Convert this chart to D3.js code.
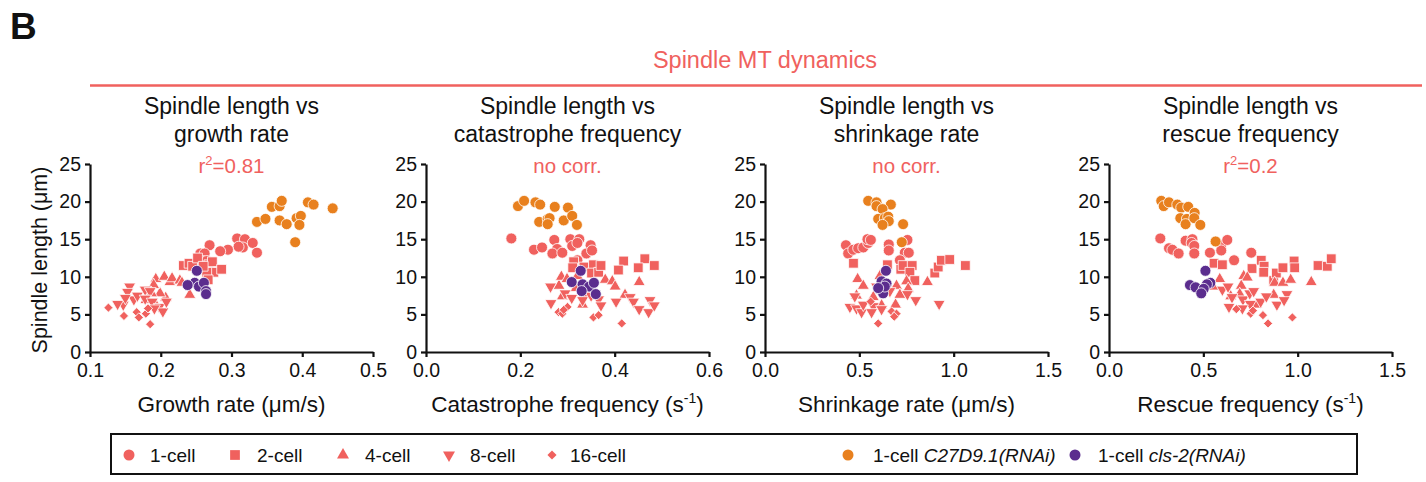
<!DOCTYPE html>
<html>
<head>
<meta charset="utf-8">
<script src="https://cdn.jsdelivr.net/npm/d3@7"></script>
<style>
  html, body { margin: 0; padding: 0; background: #fff; }
  svg { display: block; font-family: "Liberation Sans", Arial, Helvetica, sans-serif; }
</style>
</head>
<body>
<svg id="chart" width="1426" height="482"></svg>
<script>
// groups shown in the legend
const groupNames = ['1-cell', '2-cell', '4-cell', '8-cell', '16-cell', '1-cell C27D9.1(RNAi)', '1-cell cls-2(RNAi)'];

// [x, spindle length µm]
const growth_1cell = [[0.308,15.1],[0.319,15.0],[0.316,13.9],[0.310,14.0],[0.330,14.5],[0.336,13.2],[0.295,13.6],[0.284,13.4],[0.269,14.2],[0.256,13.1],[0.262,13.1],[0.259,12.1],[0.251,11.6],[0.265,12.1]];
const growth_2cell = [[0.232,11.5],[0.240,11.8],[0.245,11.4],[0.252,12.5],[0.268,11.6],[0.273,12.0],[0.275,10.6],[0.286,11.0],[0.265,10.6],[0.267,9.6],[0.260,11.4]];
const growth_4cell = [[0.193,9.7],[0.205,10.0],[0.213,9.3],[0.216,9.8],[0.227,9.5],[0.230,9.2],[0.241,7.6],[0.207,7.2],[0.199,7.8],[0.190,8.9],[0.187,7.8],[0.179,6.9],[0.194,6.1]];
const growth_8cell = [[0.156,8.7],[0.153,8.0],[0.162,7.0],[0.147,6.3],[0.139,6.4],[0.167,7.5],[0.178,8.3],[0.185,8.1],[0.178,7.1],[0.188,6.7],[0.198,6.0],[0.203,5.4],[0.208,6.7],[0.191,5.8],[0.150,7.2]];
const growth_16cell = [[0.126,5.9],[0.148,4.8],[0.166,5.3],[0.169,4.6],[0.179,5.1],[0.185,3.7],[0.182,5.8]];
const growth_c27 = [[0.357,19.3],[0.368,19.4],[0.371,20.1],[0.408,19.9],[0.416,19.6],[0.443,19.1],[0.336,17.3],[0.348,17.7],[0.368,17.5],[0.378,17.0],[0.392,17.8],[0.398,18.1],[0.396,16.9],[0.390,14.6]];
const growth_cls2 = [[0.251,10.8],[0.248,9.2],[0.238,8.9],[0.254,8.7],[0.261,9.2],[0.264,8.1],[0.264,7.7]];

const catastrophe_1cell = [[0.181,15.1],[0.229,13.6],[0.246,13.9],[0.272,14.9],[0.278,13.7],[0.268,13.1],[0.289,13.2],[0.306,15.0],[0.310,14.1],[0.325,15.0],[0.321,14.5],[0.349,14.2],[0.340,13.1],[0.352,13.5],[0.321,12.2]];
const catastrophe_2cell = [[0.313,12.0],[0.311,11.2],[0.335,11.3],[0.355,11.6],[0.351,10.5],[0.366,10.6],[0.371,11.5],[0.419,12.1],[0.408,10.9],[0.464,12.4],[0.450,11.2],[0.484,11.5]];
const catastrophe_4cell = [[0.282,8.8],[0.287,10.0],[0.299,9.7],[0.321,10.1],[0.380,9.6],[0.395,9.4],[0.401,8.7],[0.452,9.3],[0.422,7.6],[0.340,7.7],[0.332,6.3],[0.289,7.4],[0.318,8.5]];
const catastrophe_8cell = [[0.264,8.7],[0.295,7.8],[0.309,7.2],[0.332,6.9],[0.350,7.5],[0.366,7.0],[0.371,6.2],[0.403,6.7],[0.433,7.3],[0.440,6.7],[0.452,5.7],[0.472,5.3],[0.475,6.9],[0.484,6.2],[0.265,6.5]];
const catastrophe_16cell = [[0.281,5.3],[0.289,5.1],[0.300,6.0],[0.292,5.6],[0.355,4.6],[0.366,4.9],[0.415,3.8]];
const catastrophe_c27 = [[0.195,19.4],[0.208,20.1],[0.232,19.9],[0.242,19.6],[0.273,19.3],[0.301,19.2],[0.240,17.3],[0.258,17.7],[0.262,17.8],[0.258,17.0],[0.292,17.5],[0.310,18.1],[0.320,16.9]];
const catastrophe_cls2 = [[0.328,10.8],[0.309,9.3],[0.332,9.0],[0.346,8.7],[0.356,9.2],[0.330,8.1],[0.360,7.7]];

const shrinkage_1cell = [[0.429,14.2],[0.441,13.1],[0.468,13.6],[0.494,13.8],[0.521,13.9],[0.547,14.5],[0.543,15.0],[0.561,14.9],[0.656,14.3],[0.656,13.5],[0.755,14.9],[0.741,13.2],[0.762,13.2],[0.715,12.2]];
const shrinkage_2cell = [[0.469,11.8],[0.649,11.6],[0.720,11.0],[0.732,11.5],[0.780,11.5],[0.768,10.6],[0.794,9.5],[0.900,10.5],[0.918,11.3],[0.935,12.2],[0.979,12.3],[1.062,11.5]];
const shrinkage_4cell = [[0.491,9.7],[0.521,8.8],[0.609,10.1],[0.697,8.8],[0.750,9.4],[0.759,8.4],[0.861,9.3],[0.574,7.3],[0.692,6.3],[0.715,7.6],[0.485,7.5],[0.618,6.2]];
const shrinkage_8cell = [[0.450,6.0],[0.485,5.8],[0.512,5.3],[0.521,6.3],[0.574,6.1],[0.618,5.7],[0.591,8.7],[0.662,8.1],[0.755,7.7],[0.799,6.9],[0.923,6.4],[0.565,5.3],[0.476,7.4]];
const shrinkage_16cell = [[0.671,5.4],[0.697,5.1],[0.685,4.7],[0.600,3.8],[0.560,6.7]];
const shrinkage_c27 = [[0.547,20.1],[0.591,19.9],[0.667,19.6],[0.591,19.4],[0.623,19.0],[0.600,17.7],[0.635,17.8],[0.653,18.0],[0.656,17.4],[0.623,16.9],[0.732,17.0],[0.725,14.6]];
const shrinkage_cls2 = [[0.641,10.8],[0.618,9.4],[0.644,9.1],[0.609,8.3],[0.626,7.8],[0.635,8.7],[0.600,8.5]];

const rescue_1cell = [[0.272,15.1],[0.318,13.8],[0.336,13.6],[0.369,13.1],[0.406,14.8],[0.442,15.0],[0.438,14.5],[0.452,14.1],[0.452,13.1],[0.535,13.2],[0.595,14.2],[0.627,14.9],[0.595,13.5],[0.663,12.2],[0.754,13.2]];
const rescue_2cell = [[0.557,11.8],[0.601,11.6],[0.758,11.1],[0.807,12.2],[0.822,11.4],[0.820,10.6],[0.873,9.5],[0.887,10.5],[0.922,11.2],[0.981,12.1],[0.984,11.2],[1.108,11.5],[1.157,11.4],[1.178,12.4]];
const rescue_4cell = [[0.551,8.7],[0.587,9.7],[0.714,10.1],[0.733,9.9],[0.701,8.8],[0.878,9.2],[0.922,9.2],[0.963,9.6],[1.072,9.3],[0.645,7.4],[0.693,7.7],[0.873,7.6],[0.781,6.3]];
const rescue_8cell = [[0.601,8.3],[0.631,8.7],[0.652,7.3],[0.710,7.0],[0.746,7.8],[0.767,8.1],[0.749,6.4],[0.804,6.7],[0.834,7.4],[0.890,6.3],[0.943,7.7],[0.928,6.9],[0.636,6.0],[0.707,5.8]];
const rescue_16cell = [[0.751,5.1],[0.763,5.5],[0.816,4.9],[0.843,3.8],[0.972,4.6],[0.675,5.7]];
const rescue_c27 = [[0.277,20.1],[0.290,19.4],[0.318,19.9],[0.362,19.6],[0.383,19.2],[0.420,19.3],[0.378,17.8],[0.413,17.7],[0.406,17.0],[0.454,18.5],[0.452,17.8],[0.484,16.9],[0.565,14.7]];
const rescue_cls2 = [[0.429,8.9],[0.459,8.6],[0.511,10.8],[0.537,9.2],[0.519,9.0],[0.502,8.4],[0.489,7.8]];

// axis ticks
const yTicks = [0, 5, 10, 15, 20, 25];
const growthTicks = [0.1, 0.2, 0.3, 0.4, 0.5];
const catastropheTicks = [0.0, 0.2, 0.4, 0.6];
const shrinkageTicks = [0.0, 0.5, 1.0, 1.5];
const rescueTicks = [0.0, 0.5, 1.0, 1.5];

const panelTitles = [
  ['Spindle length vs', 'growth rate'],
  ['Spindle length vs', 'catastrophe frequency'],
  ['Spindle length vs', 'shrinkage rate'],
  ['Spindle length vs', 'rescue frequency']
];
const corrLabels = ['r2=0.81', 'no corr.', 'no corr.', 'r2=0.2'];

const RED = '#f0615e';
const ORANGE = '#e8801e';
const PURPLE = '#5b2d8e';
const groupColors = [RED, RED, RED, RED, RED, ORANGE, PURPLE];

const panels = [
  { ticks: growthTicks, fmt: '.1f', label: ['Growth rate (μm/s)', null],
    series: [growth_1cell, growth_2cell, growth_4cell, growth_8cell, growth_16cell, growth_c27, growth_cls2] },
  { ticks: catastropheTicks, fmt: '.1f', label: ['Catastrophe frequency (s', '-1'],
    series: [catastrophe_1cell, catastrophe_2cell, catastrophe_4cell, catastrophe_8cell, catastrophe_16cell, catastrophe_c27, catastrophe_cls2] },
  { ticks: shrinkageTicks, fmt: '.1f', label: ['Shrinkage rate (μm/s)', null],
    series: [shrinkage_1cell, shrinkage_2cell, shrinkage_4cell, shrinkage_8cell, shrinkage_16cell, shrinkage_c27, shrinkage_cls2] },
  { ticks: rescueTicks, fmt: '.1f', label: ['Rescue frequency (s', '-1'],
    series: [rescue_1cell, rescue_2cell, rescue_4cell, rescue_8cell, rescue_16cell, rescue_c27, rescue_cls2] }
];

// marker shapes per group: [d3 symbol, size, rotation]
const markers = [
  [d3.symbolCircle, 95, 0],
  [d3.symbolSquare, 95, 0],
  [d3.symbolTriangle, 62, 0],
  [d3.symbolTriangle, 62, 180],
  [d3.symbolSquare, 42, 45],
  [d3.symbolCircle, 95, 0],
  [d3.symbolCircle, 95, 0]
];

const svg = d3.select('#chart');
const panelLeft = [90, 426, 765, 1109];
const plotW = 283;
const plotTop = 164;
const plotBottom = 352;

svg.append('text').attr('x', 10).attr('y', 39)
  .attr('font-size', 37).attr('font-weight', 'bold').attr('fill', '#111').text('B');

svg.append('text').attr('x', 765).attr('y', 68).attr('text-anchor', 'middle')
  .attr('font-size', 23.5).attr('fill', RED).text('Spindle MT dynamics');
svg.append('line').attr('x1', 90).attr('x2', 1422).attr('y1', 85.5).attr('y2', 85.5)
  .attr('stroke', RED).attr('stroke-width', 2.5);

const y = d3.scaleLinear().domain([0, 25]).range([plotBottom, plotTop]);

panels.forEach((panel, i) => {
  const left = panelLeft[i];
  const cx = left + plotW / 2;
  const x = d3.scaleLinear().domain(d3.extent(panel.ticks)).range([left, left + plotW]);

  const title = svg.append('text').attr('text-anchor', 'middle').attr('font-size', 23).attr('fill', '#111');
  title.append('tspan').attr('x', cx).attr('y', 114).text(panelTitles[i][0]);
  title.append('tspan').attr('x', cx).attr('y', 142).text(panelTitles[i][1]);

  const corr = svg.append('text').attr('x', cx).attr('y', 173).attr('text-anchor', 'middle')
    .attr('font-size', 20.5).attr('fill', RED);
  if (corrLabels[i].startsWith('r2')) {
    corr.append('tspan').text('r');
    corr.append('tspan').attr('font-size', 13).attr('dy', -8).text('2');
    corr.append('tspan').attr('dy', 8).text(corrLabels[i].slice(2));
  } else {
    corr.text(corrLabels[i]);
  }

  const gx = svg.append('g').attr('transform', `translate(0,${plotBottom})`)
    .call(d3.axisBottom(x).tickValues(panel.ticks).tickFormat(d3.format(panel.fmt)).tickSize(5).tickSizeOuter(0).tickPadding(6));
  const gy = svg.append('g').attr('transform', `translate(${left},0)`)
    .call(d3.axisLeft(y).tickValues(yTicks).tickSize(5).tickSizeOuter(0).tickPadding(4));
  [gx, gy].forEach((g) => {
    g.select('.domain').attr('stroke', '#111').attr('stroke-width', 2.2);
    g.selectAll('.tick line').attr('stroke', '#111').attr('stroke-width', 2.2);
    g.selectAll('.tick text').attr('font-size', 19.5).attr('fill', '#111')
      .attr('font-family', '"Liberation Sans", Arial, Helvetica, sans-serif');
  });

  const xl = svg.append('text').attr('x', cx).attr('y', 412).attr('text-anchor', 'middle')
    .attr('font-size', 22.5).attr('fill', '#111');
  xl.append('tspan').text(panel.label[0]);
  if (panel.label[1]) {
    xl.append('tspan').attr('font-size', 14).attr('dy', -9).text(panel.label[1]);
    xl.append('tspan').attr('dy', 9).text(')');
  }

  panel.series.forEach((pts, g) => {
    const [type, size, rot] = markers[g];
    svg.append('g').selectAll('path').data(pts).join('path')
      .attr('d', d3.symbol(type, size))
      .attr('transform', (d) => `translate(${x(d[0])},${y(d[1])}) rotate(${rot})`)
      .attr('fill', groupColors[g])
      .attr('stroke', '#fff').attr('stroke-width', 0.8);
  });
});

svg.append('text').attr('transform', `translate(47,${(plotTop + plotBottom) / 2 + 2}) rotate(-90)`)
  .attr('text-anchor', 'middle').attr('font-size', 21.5).attr('fill', '#111').text('Spindle length (μm)');

// legend
const legend = svg.append('g');
legend.append('rect').attr('x', 111).attr('y', 434).attr('width', 1246).attr('height', 40)
  .attr('fill', 'none').attr('stroke', '#111').attr('stroke-width', 2);
const legendMarkX = [129, 235, 343, 449, 552, 848, 1075];
const legendTextX = [150, 257, 365, 470, 570, 873, 1098];
groupNames.forEach((name, g) => {
  const [type, size, rot] = markers[g];
  legend.append('path').attr('d', d3.symbol(type, size))
    .attr('transform', `translate(${legendMarkX[g]},455) rotate(${rot})`)
    .attr('fill', groupColors[g]);
  const t = legend.append('text').attr('x', legendTextX[g]).attr('y', 462)
    .attr('font-size', 19).attr('fill', '#111');
  const m = name.match(/^(1-cell) (.+)$/);
  if (m && g >= 5) {
    t.append('tspan').text(m[1] + ' ');
    t.append('tspan').attr('font-style', 'italic').text(m[2]);
  } else {
    t.text(name);
  }
});
</script>
</body>
</html>
